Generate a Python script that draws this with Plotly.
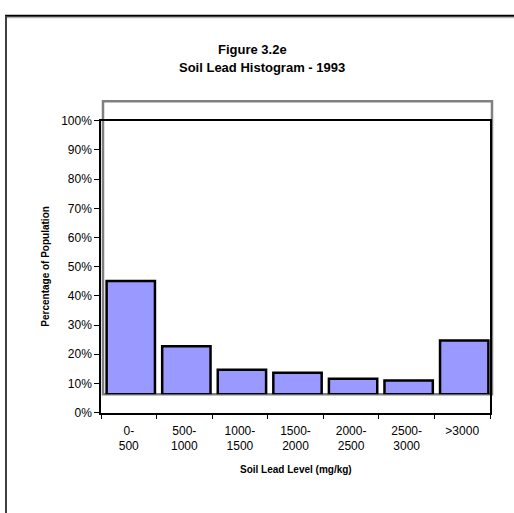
import plotly.graph_objects as go

W, H = 514, 513

# Soil lead level classes (mg/kg) and share of the population in each
categories = ["0-500", "500-1000", "1000-1500", "1500-2000", "2000-2500", "2500-3000", ">3000"]
tick_labels = ["0-<br>500", "500-<br>1000", "1000-<br>1500", "1500-<br>2000",
               "2000-<br>2500", "2500-<br>3000", ">3000"]
percent_population = [38.8, 16.4, 8.4, 7.3, 5.3, 4.7, 18.4]


def px_x(p):
    return p / W


def px_y(p):
    return 1 - p / H


FONT = "Arial, Liberation Sans, sans-serif"

fig = go.Figure()

# Columns drawn on the recessed (back-wall) axes
fig.add_trace(go.Bar(
    x=categories, y=percent_population,
    xaxis="x2", yaxis="y2",
    marker=dict(color="#9999FF", line=dict(color="#000000", width=2.5)),
    hoverinfo="skip",
))

# Carrier for the front category axis labels
fig.add_trace(go.Scatter(
    x=categories, y=[0] * len(categories),
    mode="markers", marker=dict(opacity=0),
    hoverinfo="skip", showlegend=False,
))

fig.update_layout(
    width=W, height=H,
    margin=dict(l=0, r=0, t=0, b=0),
    paper_bgcolor="white", plot_bgcolor="rgba(0,0,0,0)",
    showlegend=False,
    bargap=0.13,
    xaxis=dict(
        domain=[px_x(101), px_x(490)],
        type="category", categoryorder="array", categoryarray=categories,
        range=[-0.5, len(categories) - 0.5],
        tickvals=categories, ticktext=tick_labels,
        tickson="boundaries", ticks="outside", ticklen=5, tickcolor="black",
        ticklabelstandoff=6,
        showline=True, linecolor="black", linewidth=1.5, mirror=True,
        showgrid=False, zeroline=False,
        tickfont=dict(family=FONT, size=12, color="black"),
        anchor="y",
    ),
    yaxis=dict(
        domain=[px_y(417), px_y(117)],
        range=[0, 100], dtick=10, ticksuffix="%",
        ticks="outside", ticklen=5, tickcolor="black",
        showline=True, linecolor="black", linewidth=1.5, mirror=True,
        showgrid=False, zeroline=False,
        tickfont=dict(family=FONT, size=12, color="black"),
        anchor="x",
    ),
    xaxis2=dict(
        domain=[px_x(103), px_x(492)],
        type="category", categoryorder="array", categoryarray=categories,
        range=[-0.5, len(categories) - 0.5],
        visible=False, anchor="y2",
    ),
    yaxis2=dict(
        domain=[px_y(398), px_y(98)],
        range=[0, 100],
        visible=False, anchor="x2",
    ),
)

shapes = []
# Back wall outline
shapes.append(dict(type="rect", xref="x2 domain", yref="y2 domain",
                   x0=0, x1=1, y0=0, y1=1.0033,
                   line=dict(color="#808080", width=2.5), layer="below"))
# Chart frame (runs off the page at right and bottom)
shapes.append(dict(type="line", xref="paper", yref="paper",
                   x0=px_x(5), x1=1.05, y0=px_y(9), y1=px_y(9),
                   line=dict(color="#000000", width=2)))
shapes.append(dict(type="line", xref="paper", yref="paper",
                   x0=px_x(7), x1=1.05, y0=px_y(11), y1=px_y(11),
                   line=dict(color="#A0A0A0", width=1)))
shapes.append(dict(type="line", xref="paper", yref="paper",
                   x0=px_x(6), x1=px_x(6), y0=px_y(9), y1=-0.05,
                   line=dict(color="#404040", width=2)))
fig.update_layout(shapes=shapes)

annotations = [
    dict(text="<b>Figure 3.2e</b>", x=px_x(252), y=px_y(44),
         font=dict(family=FONT, size=13, color="black")),
    dict(text="<b>Soil Lead Histogram - 1993</b>", x=px_x(262), y=px_y(62),
         font=dict(family=FONT, size=13, color="black")),
    dict(text="<b>Soil Lead Level (mg/kg)</b>", x=px_x(295.5), y=px_y(475),
         font=dict(family=FONT, size=10, color="black")),
    dict(text="<b>Percentage of Population</b>", x=px_x(46), y=px_y(267),
         textangle=-90, font=dict(family=FONT, size=10, color="black")),
]
for a in annotations:
    a.update(xref="paper", yref="paper", showarrow=False,
             xanchor="center", yanchor="middle")
fig.update_layout(annotations=annotations)

fig.write_html("out.html")
